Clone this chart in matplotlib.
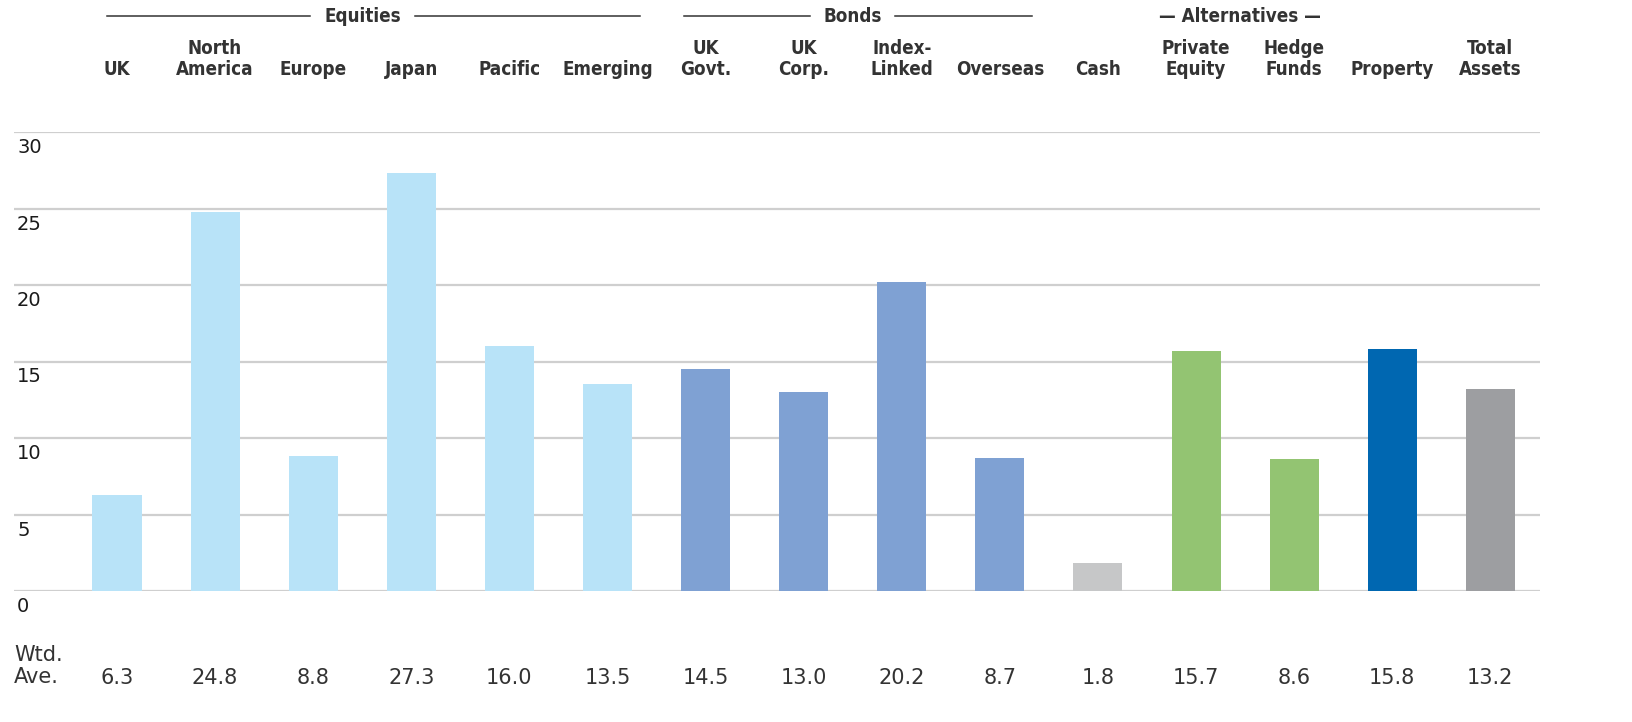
import matplotlib
matplotlib.use("Agg")
import matplotlib.pyplot as plt
import matplotlib.font_manager as fm
from matplotlib import transforms

# Data
categories = ["UK", "North\nAmerica", "Europe", "Japan", "Pacific", "Emerging",
              "UK\nGovt.", "UK\nCorp.", "Index-\nLinked", "Overseas",
              "Cash", "Private\nEquity", "Hedge\nFunds", "Property", "Total\nAssets"]
values = [6.3, 24.8, 8.8, 27.3, 16.0, 13.5, 14.5, 13.0, 20.2, 8.7,
          1.8, 15.7, 8.6, 15.8, 13.2]
groups = ["eq"] * 6 + ["bond"] * 4 + ["cash"] + ["alt"] * 2 + ["prop", "total"]
y_ticks = [0, 5, 10, 15, 20, 25, 30]

group_colors = {
    "eq": "#b8e3f8",
    "bond": "#7fa1d3",
    "cash": "#c6c7c8",
    "alt": "#93c472",
    "prop": "#0067b1",
    "total": "#9d9ea1",
}

# header font: a condensed bold face if one is installed, else Roboto bold
cond_bold = [f.fname for f in fm.fontManager.ttflist
             if ("Condensed" in f.fname or "Narrow" in f.fname)
             and f.weight in ("bold", 700) and f.style == "normal"]
if cond_bold:
    head_prop = fm.FontProperties(fname=sorted(cond_bold)[0], size=13.5)
else:
    head_prop = fm.FontProperties(family="Roboto", weight="bold", size=13)
body_font = "DejaVu Sans"

fig = plt.figure(figsize=(16.33, 7.22), dpi=100)
ax = fig.add_axes([14 / 1633, 131 / 722, 1526 / 1633, 459 / 722])

x = list(range(len(values)))
colors = [group_colors[g] for g in groups]
ax.bar(x, values, width=0.5, color=colors, zorder=2)

for t in y_ticks:
    ax.axhline(t, color="#cfcfcf", lw=1.6, zorder=1)

ax.set_xlim(-1.05, 14.506)
ax.set_ylim(0, 30)
for s in ax.spines.values():
    s.set_visible(False)
ax.set_xticks([])
ax.set_yticks([])

# y tick labels, sitting just under each gridline
ytrans = transforms.offset_copy(ax.transData, fig=fig, x=0, y=-6, units="dots")
yblend = transforms.blended_transform_factory(ax.transAxes, ytrans)
for t in y_ticks:
    ax.text(0.002, t, str(t), transform=yblend, ha="left", va="top",
            fontsize=14, color="#1a1a1a", family=body_font, clip_on=False)

blend = transforms.blended_transform_factory(ax.transData, ax.transAxes)

# category labels above the plot
for i, c in enumerate(categories):
    ax.text(i, 1.116, c, transform=blend, ha="center", va="bottom",
            fontproperties=head_prop, color="#333333",
            linespacing=1.15, clip_on=False)

# group headers
head_y = 1.2527
ax.text(2.51, head_y, "Equities", transform=blend, ha="center", va="center",
        fontproperties=head_prop, color="#333333")
ax.plot([-0.10, 1.97], [head_y, head_y], transform=blend, color="#333333", lw=1.1, clip_on=False)
ax.plot([3.04, 5.33], [head_y, head_y], transform=blend, color="#333333", lw=1.1, clip_on=False)

ax.text(7.5, head_y, "Bonds", transform=blend, ha="center", va="center",
        fontproperties=head_prop, color="#333333")
ax.plot([5.78, 7.06], [head_y, head_y], transform=blend, color="#333333", lw=1.1, clip_on=False)
ax.plot([7.93, 9.33], [head_y, head_y], transform=blend, color="#333333", lw=1.1, clip_on=False)

ax.text(11.45, head_y, "\u2014 Alternatives \u2014", transform=blend, ha="center", va="center",
        fontproperties=head_prop, color="#333333")

# weighted average row
ax.text(0.0, -0.163, "Wtd.\nAve.", transform=ax.transAxes, ha="left", va="center",
        fontsize=15, color="#333333", family=body_font, linespacing=1.15, clip_on=False)
for i, v in enumerate(values):
    ax.text(i, -0.19, f"{v:.1f}", transform=blend, ha="center", va="center",
            fontsize=15, color="#333333", family=body_font, clip_on=False)

fig.savefig("out.png", dpi=100)
